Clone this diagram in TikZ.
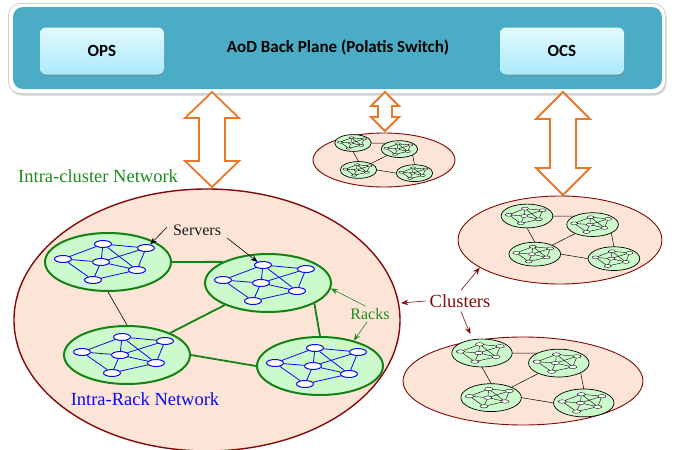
\documentclass[tikz,border=0pt]{standalone}
\usepackage{fontspec}
\setmainfont{Liberation Serif}
\newfontfamily\calib{Carlito}
\usetikzlibrary{shapes.geometric,arrows.meta,shadows,calc}
\definecolor{panelteal}{RGB}{75,172,198}
\definecolor{boxtop}{RGB}{226,249,254}
\definecolor{boxbot}{RGB}{172,233,250}
\definecolor{arrorange}{RGB}{235,120,40}
\definecolor{peach}{RGB}{252,229,215}
\definecolor{clusterred}{RGB}{130,10,10}
\definecolor{greentext}{RGB}{30,140,30}
\definecolor{rackgreen}{RGB}{20,130,20}
\definecolor{rackfill}{RGB}{204,250,204}
\definecolor{srvblue}{RGB}{10,10,235}
\newcommand\blockarr[6]{% cx, top, bot, head half, shaft half, head length
  \draw[blockarrow] (#1,#2) -- (#1+#4,#2+#6) -- (#1+#5,#2+#6) -- (#1+#5,#3-#6) -- (#1+#4,#3-#6) -- (#1,#3)
    -- (#1-#4,#3-#6) -- (#1-#5,#3-#6) -- (#1-#5,#2+#6) -- (#1-#4,#2+#6) -- cycle;}
\newcommand\rackgroup[7]{% prefix, x, y, scale, pic opts, link style, R1-R3 link style
  \pic[#5] (#1a) at (#2,#3) {rack};
  \pic[#5] (#1b) at ({#2+160*#4},{#3+21*#4}) {rack};
  \pic[#5] (#1c) at ({#2+19*#4},{#3+93*#4}) {rack};
  \pic[#5] (#1d) at ({#2+212*#4},{#3+104*#4}) {rack};
  \draw[#6] (#1a-r.east) -- (#1b-r.155);
  \draw[#7] (#1a-r.south) -- (#1c-r.north);
  \draw[#6] (#1b-r) -- (#1c-r);
  \draw[#6] (#1c-r.east) -- (#1d-r.west);
  \draw[#6] (#1b-r.-24) -- (#1d-r.north);
}
\begin{document}
\begin{tikzpicture}[x=1pt,y=-1pt,
  panelframe/.style={rectangle, rounded corners=12pt, fill=white, draw=gray!35, line width=0.8pt,
     drop shadow={shadow xshift=1pt, shadow yshift=-2pt, opacity=0.35}, inner sep=0},
  panelbox/.style={rectangle, rounded corners=10pt, fill=panelteal, inner sep=0},
  btn/.style={rectangle, rounded corners=6pt, top color=boxtop, bottom color=boxbot,
     minimum width=124pt, minimum height=47pt, inner sep=0,
     drop shadow={shadow xshift=0.5pt, shadow yshift=-1.5pt, opacity=0.45},
     font=\calib\bfseries\fontsize{17}{20}\selectfont},
  title/.style={font=\calib\bfseries\fontsize{17}{20}\selectfont, inner sep=0},
  blockarrow/.style={draw=arrorange, fill=white, line width=1.8pt, line join=miter},
  cluster/.style={ellipse, draw=clusterred, line width=1.4pt, fill=peach, inner sep=0},
  smallclu/.style={cluster, line width=0.9pt},
  rackshape/.style={ellipse, draw=rackgreen, line width=2pt, fill=rackfill,
     minimum width=126pt, minimum height=58pt, inner sep=0},
  server/.style={ellipse, draw=srvblue, line width=1pt, fill=white,
     minimum width=17pt, minimum height=7pt, inner sep=0},
  srvlink/.style={draw=srvblue, line width=0.8pt},
  smallrack/.style={scale=#1, transform shape,
     rackshape/.append style={draw=black, line width=0.7pt},
     server/.append style={draw=black, line width=0.4pt},
     srvlink/.style={draw=black, line width=0.4pt}},
  greenlink/.style={draw=rackgreen, line width=1.8pt},
  blacklink/.style={draw=black, line width=0.6pt},
  thinlink/.style={draw=black, line width=0.5pt},
  ptr/.style={-{Stealth[length=7pt,width=5.5pt]}, line width=0.6pt},
  lab/.style={font=\fontsize{18.5}{22}\selectfont, inner sep=0},
  rack/.pic={
    \node[rackshape] (-r) at (0,0) {};
    \node[server] (-s1) at (-5,-18) {};
    \node[server] (-s2) at (38,-14) {};
    \node[server] (-s3) at (-45,-3) {};
    \node[server] (-s4) at (-7,0) {};
    \node[server] (-s5) at (29,8) {};
    \node[server] (-s6) at (-15,18) {};
    \foreach \a/\b in {1/2,1/3,1/4,1/5,2/4,2/5,3/4,3/6,4/5,4/6,5/6}
      \draw[srvlink] (-s\a) -- (-s\b);
  }]
\useasboundingbox (0,0) rectangle (681,450);
\fill[white] (0,0) rectangle (681,450);

% top panel
\node[panelframe, minimum width=657pt, minimum height=90pt] (frame) at (337,48.5) {};
\node[panelbox, minimum width=649pt, minimum height=82pt] (panel) at (337.5,48) {};
\node[btn] (ops) at (102,51) {OPS};
\node[btn] (ocs) at (562,51) {OCS};
\node[title] (title) at (338,47) {AoD Back Plane (Polatis Switch)};

% block arrows
\blockarr{212}{92}{187}{27}{13}{26}
\blockarr{385}{92}{131}{14}{7}{14}
\blockarr{563}{92}{195}{27}{13}{27}

% clusters
\node[cluster, minimum width=386pt, minimum height=262pt] (bigc) at (207,320) {};
\node[smallclu, minimum width=142pt, minimum height=54pt] (clu1) at (384,160) {};
\node[smallclu, minimum width=204pt, minimum height=88pt] (clu2) at (560,240) {};
\node[smallclu, minimum width=240pt, minimum height=88pt] (clu3) at (523,381) {};

\rackgroup{B}{108}{262}{1}{scale=1}{greenlink}{blacklink}
\rackgroup{T}{353}{143}{0.29}{smallrack=0.29}{thinlink}{thinlink}
\rackgroup{U}{527}{216}{0.41}{smallrack=0.41}{thinlink}{thinlink}
\rackgroup{L}{482}{353}{0.48}{smallrack=0.48}{thinlink}{thinlink}

% labels
\node[lab, text=greentext, anchor=west] (icn) at (18,176) {Intra-cluster Network};
\node[lab, text=srvblue] (irn) at (145,399) {Intra-Rack Network};
\node[font=\fontsize{16}{19}\selectfont, text=black!90, inner sep=6pt] (servers) at (197,230) {Servers};
\node[font=\fontsize{16}{19}\selectfont, text=greentext, inner sep=2pt] (racks) at (370,314) {Racks};
\node[lab, text=clusterred, inner sep=4pt] (clusters) at (460,301) {Clusters};

% pointers
\draw[ptr, black] (servers.175) -- (Ba-s2.40);
\draw[ptr, black] (servers.-15) -- (Bb-s1.150);
\draw[ptr, greentext] (racks.120) -- (Bb-r.-5);
\draw[ptr, greentext] (racks.250) -- (Bd-r.37);
\draw[ptr, clusterred, shorten >=2pt] (clusters.west) -- (bigc.5);
\draw[ptr, clusterred] (clusters.85) -- (clu2.199);
\draw[ptr, clusterred, shorten >=7pt] (clusters.275) -- (clu3.141);
\end{tikzpicture}
\end{document}
